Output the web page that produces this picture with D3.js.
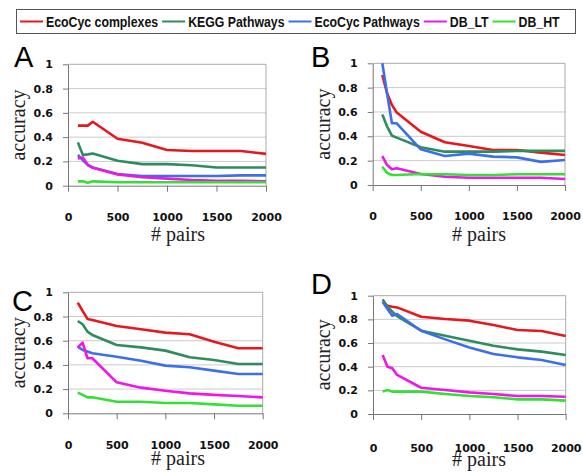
<!DOCTYPE html>
<html>
<head>
<meta charset="utf-8">
<script src="https://cdn.jsdelivr.net/npm/d3@7"></script>
<style>
  body { margin: 0; background: #fff; }
  svg { display: block; }
</style>
</head>
<body>
<div id="chart"></div>
<script>
// ---------------- data ----------------
const pairs = [100, 150, 200, 250, 500, 750, 1000, 1250, 1500, 1750, 2000];
const seriesNames = ['EcoCyc complexes', 'KEGG Pathways', 'EcoCyc Pathways', 'DB_LT', 'DB_HT'];
const xTicks = [0, 500, 1000, 1500, 2000];
const yTicks = [0, 0.2, 0.4, 0.6, 0.8, 1];

// each panel: one array per series, same order as seriesNames
const panelA = [
  [0.495, 0.495, 0.495, 0.527, 0.387, 0.354, 0.294, 0.286, 0.286, 0.286, 0.262],
  [0.357, 0.253, 0.258, 0.266, 0.206, 0.178, 0.178, 0.168, 0.150, 0.150, 0.150],
  [0.253, 0.210, 0.172, 0.150, 0.096, 0.080, 0.080, 0.080, 0.080, 0.085, 0.085],
  [0.225, 0.233, 0.170, 0.148, 0.093, 0.069, 0.058, 0.047, 0.041, 0.041, 0.036],
  [0.036, 0.036, 0.025, 0.036, 0.028, 0.028, 0.028, 0.028, 0.028, 0.028, 0.028]
];
const panelB = [
  [0.904, 0.753, 0.658, 0.595, 0.438, 0.351, 0.320, 0.288, 0.288, 0.266, 0.247],
  [0.580, 0.480, 0.405, 0.389, 0.310, 0.274, 0.274, 0.274, 0.280, 0.280, 0.280],
  [1.000, 0.750, 0.507, 0.507, 0.293, 0.238, 0.258, 0.233, 0.227, 0.190, 0.205],
  [0.238, 0.164, 0.129, 0.137, 0.090, 0.068, 0.060, 0.060, 0.060, 0.060, 0.049],
  [0.150, 0.100, 0.082, 0.082, 0.090, 0.088, 0.082, 0.082, 0.088, 0.088, 0.088]
];
const panelC = [
  [0.915, 0.846, 0.780, 0.771, 0.722, 0.694, 0.667, 0.653, 0.592, 0.537, 0.537],
  [0.763, 0.736, 0.675, 0.647, 0.565, 0.545, 0.518, 0.463, 0.441, 0.408, 0.408],
  [0.551, 0.523, 0.510, 0.496, 0.468, 0.435, 0.394, 0.380, 0.353, 0.325, 0.325],
  [0.545, 0.584, 0.455, 0.455, 0.256, 0.212, 0.187, 0.165, 0.152, 0.143, 0.132],
  [0.171, 0.152, 0.132, 0.132, 0.096, 0.096, 0.085, 0.085, 0.074, 0.063, 0.063]
];
const panelD = [
  [0.949, 0.915, 0.907, 0.901, 0.822, 0.803, 0.789, 0.752, 0.710, 0.701, 0.659],
  [0.969, 0.907, 0.865, 0.828, 0.704, 0.662, 0.620, 0.577, 0.546, 0.527, 0.499],
  [0.949, 0.887, 0.831, 0.845, 0.704, 0.631, 0.563, 0.507, 0.479, 0.456, 0.414],
  [0.499, 0.400, 0.386, 0.330, 0.222, 0.203, 0.183, 0.169, 0.152, 0.152, 0.146],
  [0.189, 0.203, 0.189, 0.189, 0.189, 0.169, 0.152, 0.141, 0.124, 0.124, 0.113]
];

// ---------------- styles / layout ----------------
const colors = ['#e8171d', '#2f8c5c', '#3c6fea', '#f016e8', '#33e033'];
const width = 583;
const height = 474;
const serifFont = "'Liberation Serif', 'Times New Roman', Times, 'DejaVu Serif', serif";
const tickFont = "'DejaVu Sans', Verdana, sans-serif";
const sansFont = "'Liberation Sans', Arial, Helvetica, sans-serif";

const panels = [
  { letter: 'A', data: panelA, left: 68, right: 266, top: 64.3, bottom: 185.7, letterX: 14, letterY: 67, tickY: 35, titleX: 178, titleY: 241 },
  { letter: 'B', data: panelB, left: 372.7, right: 565, top: 63.3, bottom: 185, letterX: 311, letterY: 67, tickY: 35, titleX: 479, titleY: 241 },
  { letter: 'C', data: panelC, left: 68, right: 262.7, top: 292.3, bottom: 413.3, letterX: 12, letterY: 311, tickY: 36, titleX: 178, titleY: 465 },
  { letter: 'D', data: panelD, left: 373, right: 565.7, top: 295.7, bottom: 414, letterX: 311, letterY: 294, tickY: 38, titleX: 479, titleY: 466 }
];

const svg = d3.select('#chart').append('svg')
  .attr('width', width)
  .attr('height', height);

// ---------------- panels ----------------
panels.forEach(p => {
  const x = d3.scaleLinear().domain([0, 2000]).range([p.left, p.right]);
  const y = d3.scaleLinear().domain([0, 1]).range([p.bottom, p.top]);
  const g = svg.append('g').attr('class', 'panel');

  // gridlines
  g.append('g').selectAll('line')
    .data(yTicks.filter(d => d > 0 && d < 1))
    .join('line')
    .attr('x1', p.left).attr('x2', p.right)
    .attr('y1', d => y(d)).attr('y2', d => y(d))
    .attr('stroke', '#cbcbcb')
    .attr('stroke-width', 1);

  // frame top + right
  g.append('path')
    .attr('d', `M${p.left},${y(1)}H${p.right}V${p.bottom}`)
    .attr('fill', 'none')
    .attr('stroke', '#aaaaaa')
    .attr('stroke-width', 1);

  // y axis
  const yAxis = g.append('g')
    .attr('transform', `translate(${p.left},0)`)
    .call(d3.axisLeft(y).tickValues(yTicks).tickSize(5).tickSizeOuter(0).tickPadding(10)
      .tickFormat(d => d === 0 || d === 1 ? d3.format('d')(d) : d3.format('.1f')(d)));
  yAxis.select('.domain').attr('stroke', '#777');
  yAxis.selectAll('.tick line').attr('stroke', '#777');
  yAxis.selectAll('text')
    .attr('fill', '#111')
    .style('font-family', tickFont)
    .attr('font-weight', 'bold')
    .attr('font-size', 11);

  // x axis
  const xAxis = g.append('g')
    .attr('transform', `translate(0,${p.bottom})`)
    .call(d3.axisBottom(x).tickValues(xTicks).tickSize(6).tickSizeOuter(0).tickFormat(d3.format('d')));
  xAxis.select('.domain').attr('stroke', '#777');
  xAxis.selectAll('.tick line').attr('stroke', '#777');
  xAxis.selectAll('text')
    .attr('y', p.tickY)
    .attr('dy', 0)
    .attr('fill', '#111')
    .style('font-family', tickFont)
    .attr('font-weight', 'bold')
    .attr('font-size', 11);

  // series lines
  const line = d3.line()
    .x((d, i) => x(pairs[i]))
    .y(d => y(d));
  g.append('g').selectAll('path')
    .data(p.data)
    .join('path')
    .attr('d', d => line(d))
    .attr('fill', 'none')
    .attr('stroke', (d, i) => colors[i])
    .attr('stroke-width', 2.6)
    .attr('stroke-linejoin', 'round');

  // axis titles
  g.append('text')
    .attr('transform', `translate(${p.left - 43},${(p.top + p.bottom) / 2}) rotate(-90)`)
    .attr('text-anchor', 'middle')
    .style('font-family', serifFont)
    .attr('font-size', 20)
    .attr('fill', '#222')
    .text('accuracy');
  g.append('text')
    .attr('x', p.titleX)
    .attr('y', p.titleY)
    .attr('text-anchor', 'middle')
    .style('font-family', serifFont)
    .attr('font-size', 20)
    .attr('fill', '#222')
    .text('# pairs');

  // panel letter
  g.append('text')
    .attr('x', p.letterX)
    .attr('y', p.letterY)
    .style('font-family', sansFont)
    .attr('font-size', 29)
    .attr('fill', '#000')
    .text(p.letter);
});

// ---------------- legend ----------------
const legend = svg.append('g').attr('class', 'legend');
legend.append('rect')
  .attr('x', 16.5).attr('y', 9.5)
  .attr('width', 559).attr('height', 24)
  .attr('fill', '#fff')
  .attr('stroke', '#555')
  .attr('stroke-width', 1);

// narrow bold look: regular bold face squeezed to ~82% width
let lx = 20;
seriesNames.forEach((name, i) => {
  legend.append('line')
    .attr('x1', lx).attr('x2', lx + 23)
    .attr('y1', 21.5).attr('y2', 21.5)
    .attr('stroke', colors[i])
    .attr('stroke-width', 2);
  const t = legend.append('text')
    .attr('x', lx + 26)
    .attr('y', 27)
    .style('font-family', sansFont)
    .attr('font-weight', 'bold')
    .attr('font-size', 15)
    .attr('fill', '#111')
    .text(name);
  const w = t.node().getComputedTextLength() * 0.82;
  t.attr('textLength', w).attr('lengthAdjust', 'spacingAndGlyphs');
  lx += 26 + w + 4;
});
</script>
</body>
</html>
